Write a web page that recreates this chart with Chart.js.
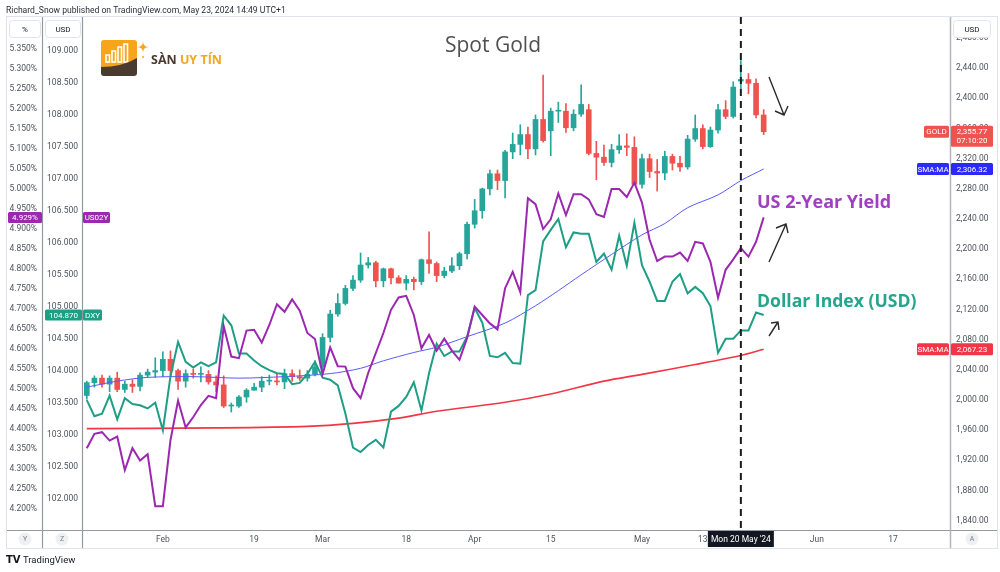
<!DOCTYPE html>
<html><head><meta charset="utf-8">
<script src="https://cdn.jsdelivr.net/npm/chart.js@4.4.1/dist/chart.umd.min.js"></script>
<style>html,body{margin:0;padding:0;background:#fff;}#wrap{width:1000px;height:572px;}</style>
</head><body><div id="wrap"><canvas id="c" width="1000" height="572"></canvas></div>
<script>
// ---- categories (trading days, 2024) ----
const dates = [
'01-18','01-19','01-22','01-23','01-24','01-25','01-26','01-29','01-30','01-31',
'02-01','02-02','02-05','02-06','02-07','02-08','02-09','02-12','02-13','02-14','02-15','02-16','02-19','02-20','02-21','02-22','02-23','02-26','02-27','02-28','02-29',
'03-01','03-04','03-05','03-06','03-07','03-08','03-11','03-12','03-13','03-14','03-15','03-18','03-19','03-20','03-21','03-22','03-25','03-26','03-27','03-28',
'04-01','04-02','04-03','04-04','04-05','04-08','04-09','04-10','04-11','04-12','04-15','04-16','04-17','04-18','04-19','04-22','04-23','04-24','04-25','04-26','04-29','04-30',
'05-01','05-02','05-03','05-06','05-07','05-08','05-09','05-10','05-13','05-14','05-15','05-16','05-17','05-20','05-21','05-22','05-23','05-24','05-27','05-28','05-29','05-30','05-31',
'06-03','06-04','06-05','06-06','06-07','06-10','06-11','06-12','06-13','06-14','06-17','06-18','06-19','06-20','06-21','06-24','06-25','06-26'];
const tickDates = ['02-01','02-19','03-01','03-18','04-01','04-15','05-01','05-13','06-03','06-17'];
const tickText  = ['Feb','19','Mar','18','Apr','15','May','13','Jun','17'];
const markerDate = '05-20';
const markerText = "Mon 20 May '24";

// ---- Spot gold daily candles ----
const goldOpen = [2006,2023,2029,2021,2029,2014,2021,2018,2033,2037,
2039,2054,2039,2025,2035,2034,2034,2024,2020,1992,1992,2004,2013,2017,2025,2025,2024,2035,2031,2029,2034,
2044,2083,2114,2128,2148,2159,2179,2182,2158,2174,2162,2155,2160,2157,2186,2181,2165,2171,2178,2194,
2233,2251,2280,2300,2291,2329,2339,2352,2333,2372,2357,2383,2383,2361,2379,2385,2327,2322,2315,2332,2337,2335,
2286,2320,2303,2301,2323,2314,2309,2346,2360,2336,2358,2385,2376,2423,2425,2420,2378];
const goldHigh = [2025,2032,2033,2032,2037,2025,2027,2036,2041,2056,
2064,2065,2041,2040,2041,2044,2039,2032,2032,1996,2006,2015,2022,2031,2033,2034,2041,2040,2040,2039,2052,
2088,2119,2141,2152,2165,2195,2189,2184,2175,2175,2165,2165,2163,2187,2223,2183,2176,2189,2196,2236,
2266,2281,2305,2305,2331,2354,2365,2362,2378,2431,2387,2395,2393,2385,2418,2392,2343,2338,2339,2352,2353,2349,
2326,2326,2319,2330,2326,2323,2351,2378,2365,2362,2392,2397,2422,2450,2433,2426,2385];
const goldLow = [2001,2017,2017,2011,2011,2010,2010,2012,2030,2030,
2031,2031,2014,2017,2029,2024,2021,2011,1990,1984,1990,1997,2013,2011,2020,2020,2015,2025,2026,2025,2032,
2039,2077,2111,2126,2145,2156,2175,2150,2150,2154,2155,2146,2146,2153,2168,2157,2162,2169,2173,2187,
2228,2241,2272,2279,2268,2320,2325,2320,2325,2342,2324,2368,2355,2357,2376,2325,2292,2311,2309,2327,2324,2285,
2281,2295,2277,2292,2305,2303,2306,2343,2333,2335,2354,2373,2374,2412,2406,2374,2352];
const goldClose = [2023,2029,2021,2029,2014,2021,2018,2033,2037,2039,
2054,2039,2025,2035,2034,2034,2024,2020,1992,1992,2004,2013,2017,2025,2025,2024,2035,2031,2029,2034,2044,
2083,2114,2128,2148,2159,2179,2182,2158,2174,2162,2155,2160,2157,2186,2181,2165,2171,2178,2194,2233,
2251,2280,2300,2291,2329,2339,2352,2333,2372,2344,2383,2383,2361,2379,2392,2327,2322,2315,2332,2337,2335,2286,
2320,2303,2301,2323,2314,2309,2346,2360,2336,2358,2385,2376,2415,2425,2420,2378,2355.77];

// ---- US 2-year yield (%) ----
const us02y = [4.352,4.388,4.392,4.371,4.381,4.297,4.352,4.321,4.337,4.207,
4.207,4.372,4.471,4.404,4.430,4.460,4.483,4.477,4.657,4.581,4.577,4.646,4.648,4.616,4.660,4.712,4.693,4.724,4.696,4.640,4.625,
4.537,4.604,4.557,4.556,4.502,4.477,4.540,4.590,4.640,4.698,4.729,4.733,4.685,4.602,4.635,4.596,4.626,4.596,4.573,4.627,
4.706,4.685,4.664,4.649,4.752,4.793,4.742,4.977,4.962,4.900,4.924,4.989,4.935,4.987,4.987,4.974,4.937,4.930,5.000,5.000,4.980,5.016,
4.966,4.873,4.820,4.831,4.831,4.841,4.820,4.868,4.864,4.818,4.728,4.798,4.824,4.852,4.831,4.868,4.929];

// ---- Dollar index ----
const dxy = [103.54,103.29,103.33,103.61,103.24,103.57,103.48,103.46,103.41,103.50,
103.07,103.91,104.45,104.14,104.05,104.13,104.07,104.13,104.86,104.71,104.27,104.27,104.16,104.07,104.01,103.96,103.95,103.79,103.81,103.95,104.14,
103.89,103.86,103.77,103.33,102.80,102.73,102.84,102.92,102.80,103.36,103.45,103.59,103.82,103.38,103.96,104.42,104.23,104.30,104.30,104.53,
104.98,104.75,104.23,104.21,104.28,104.12,104.11,105.18,105.26,106.02,106.20,106.37,105.93,106.16,106.14,106.14,105.70,105.83,105.58,106.11,105.64,106.31,
105.65,105.39,105.09,105.09,105.39,105.51,105.21,105.31,105.21,105.01,104.28,104.50,104.50,104.63,104.63,104.91,104.870];

// ---- Moving averages on gold ----
const smaFastDates = ['01-18','01-24','01-30','02-07','02-15','02-23','03-04','03-08','03-13','03-19','03-22','03-28','04-05','04-11','04-16','04-19','04-25','05-01','05-06','05-09','05-15','05-20','05-23'];
const smaFastVals  = [2017,2025,2030,2031,2029,2031,2035,2042,2052,2063,2070,2084,2102,2125,2145,2166,2193,2219,2234,2255,2272,2291,2306.32];
const smaSlowDates = ['01-18','02-12','02-28','03-07','03-15','03-22','04-05','04-15','04-24','05-01','05-10','05-20','05-23'];
const smaSlowVals  = [1962,1963,1965,1969,1976,1985,1997,2008,2025,2034,2047,2059,2067.23];

// ---- axis ticks ----
const goldTicks = [1840,1880,1920,1960,2000,2040,2080,2120,2160,2200,2240,2280,2320,2360,2400,2440,2480];
const pctTicks = [4.20,4.25,4.30,4.35,4.40,4.45,4.50,4.55,4.60,4.65,4.70,4.75,4.80,4.85,4.90,4.95,5.00,5.05,5.10,5.15,5.20,5.25,5.30,5.35];
const dxyTicks = [102.0,102.5,103.0,103.5,104.0,104.5,105.0,105.5,106.0,106.5,107.0,107.5,108.0,108.5,109.0];

const UP='#26a69a', DOWN='#ef5350', PURPLE='#9c27b0', TEAL='#1f9e86', BLUE='#5a5aff', SRED='#f23645';
const TICKC='#50535e';
const TF = {family:'Roboto', size:8.5};

const candleColors = goldOpen.map((o,i)=> goldClose[i] >= o ? UP : DOWN);

function rr(c,x,y,w,h,r){c.beginPath();c.moveTo(x+r,y);c.lineTo(x+w-r,y);c.quadraticCurveTo(x+w,y,x+w,y+r);c.lineTo(x+w,y+h-r);c.quadraticCurveTo(x+w,y+h,x+w-r,y+h);c.lineTo(x+r,y+h);c.quadraticCurveTo(x,y+h,x,y+h-r);c.lineTo(x,y+r);c.quadraticCurveTo(x,y,x+r,y);c.closePath();}
function tagBox(c,x,y,w,h,bg,txt,col,font){c.fillStyle=bg;rr(c,x,y,w,h,1.5);c.fill();c.fillStyle=col||'#fff';c.font=font||'8px Roboto';c.textAlign='center';c.textBaseline='middle';c.fillText(txt,x+w/2,y+h/2+0.5);}
function arrow(c,x0,y0,x1,y1,h1,h2){c.beginPath();c.moveTo(x0,y0);c.lineTo(x1,y1);c.moveTo(h1[0],h1[1]);c.lineTo(x1,y1);c.lineTo(h2[0],h2[1]);c.stroke();}

const overlay = {
  id:'overlay',
  beforeDraw(ch){const c=ch.ctx;c.save();c.fillStyle='#fff';c.fillRect(0,0,ch.width,ch.height);c.restore();},
  afterDatasetsDraw(ch){
    const c=ch.ctx, a=ch.chartArea, x=ch.scales.x.getPixelForValue(dates.indexOf(markerDate));
    c.save();c.strokeStyle='#1c1c1c';c.lineWidth=2;c.setLineDash([7,5]);
    c.beginPath();c.moveTo(x,a.top);c.lineTo(x,a.bottom);c.stroke();c.restore();
  },
  afterDraw(ch){
    const c=ch.ctx, a=ch.chartArea, sx=ch.scales.x, yG=ch.scales.yG, yP=ch.scales.yP, yD=ch.scales.yD;
    c.save();
    // frame & separators
    c.strokeStyle='#e0e3eb';c.lineWidth=1;c.strokeRect(6.5,16.5,991,532);
    c.strokeStyle='#9598a1';c.lineWidth=1.2;
    c.beginPath();c.moveTo(42.5,17);c.lineTo(42.5,548);c.moveTo(82.5,17);c.lineTo(82.5,548);
    c.moveTo(7,a.bottom+0.5);c.lineTo(997,a.bottom+0.5);c.stroke();
    c.strokeStyle='#b2b5be';c.lineWidth=1.5;c.beginPath();c.moveTo(950.5,17);c.lineTo(950.5,548);c.stroke();
    // header unit boxes
    c.lineWidth=1;c.strokeStyle='#e0e3eb';
    [[9,'%',31],[45,'USD',35],[953,'USD',37]].forEach(([x,t,w])=>{c.fillStyle='#fff';rr(c,x+0.5,20.5,w,17,3);c.fill();c.stroke();
      c.fillStyle='#131722';c.font='8px Roboto';c.textAlign='center';c.textBaseline='middle';c.fillText(t,x+w/2+0.5,29.5);});
    // top credit line
    c.fillStyle='#2a2e39';c.font='8.6px Roboto';c.textAlign='left';c.textBaseline='alphabetic';
    c.fillText('Richard_Snow published on TradingView.com, May 23, 2024 14:49 UTC+1',6,12.5);
    // title
    c.fillStyle='#505050';c.font='21px "Open Sans"';c.textAlign='center';c.fillText('Spot Gold',493,51.5);
    // logo
    c.fillStyle='#f6a51c';rr(c,101,40,36,30,3);c.fill();
    c.strokeStyle='#fff';c.lineWidth=1.6;
    [[106,55],[112,51],[118,47],[124,44]].forEach(([x,t])=>{c.strokeRect(x,t,3.5,62-t);});
    c.fillStyle='#4a3a2f';c.beginPath();c.moveTo(101,67);c.quadraticCurveTo(122,67,137,58);c.lineTo(137,73);c.quadraticCurveTo(137,76,134,76);c.lineTo(104,76);c.quadraticCurveTo(101,76,101,73);c.closePath();c.fill();
    c.fillStyle='#f6a51c';c.beginPath();const sx0=143,sy0=47;c.moveTo(sx0,sy0-6);c.quadraticCurveTo(sx0,sy0,sx0+6,sy0);c.quadraticCurveTo(sx0,sy0,sx0,sy0+6);c.quadraticCurveTo(sx0,sy0,sx0-6,sy0);c.quadraticCurveTo(sx0,sy0,sx0,sy0-6);c.fill();
    c.beginPath();c.arc(143,57,1,0,Math.PI*2);c.fill();
    c.font='bold 12.5px "Open Sans"';c.textAlign='left';c.fillStyle='#4a3a2f';c.fillText('SÀN',151,64);
    const w1=c.measureText('SÀN ').width;c.fillStyle='#f6a51c';c.fillText('UY TÍN',151+w1,64);
    // annotations
    c.font='bold 18px "Open Sans"';c.fillStyle='#a040c0';c.fillText('US 2-Year Yield',757,208);
    c.font='bold 17.6px "Open Sans"';c.fillStyle='#26a58d';c.fillText('Dollar Index (USD)',757,307);
    c.strokeStyle='#2b2b2b';c.lineWidth=1.4;
    arrow(c,769,77,784,115,[775,111],[788,106]);
    arrow(c,769,262,786,224,[776,228],[788,233]);
    arrow(c,769,336,778,322,[771,323],[779,330]);
    // value labels right
    const last=goldClose.length-1;
    let yv=yG.getPixelForValue(goldClose[last]);
    c.fillStyle=DOWN;rr(c,951,yv-6,42,21,1.5);c.fill();
    c.fillStyle='#fff';c.font='8px Roboto';c.textAlign='center';c.textBaseline='middle';
    c.fillText(goldClose[last].toLocaleString('en-US',{minimumFractionDigits:2}),972,yv+0.5);c.fillText('07:10:20',972,yv+9.5);
    tagBox(c,924,yv-6,25,12,DOWN,'GOLD');
    yv=yG.getPixelForValue(smaFastVals[smaFastVals.length-1]);
    tagBox(c,951,yv-6,42,12,'#2a2aff',smaFastVals[smaFastVals.length-1].toLocaleString('en-US',{minimumFractionDigits:2}));
    tagBox(c,917,yv-6,32,12,'#2a2aff','SMA:MA');
    yv=yG.getPixelForValue(smaSlowVals[smaSlowVals.length-1]);
    tagBox(c,951,yv-6,42,12,SRED,smaSlowVals[smaSlowVals.length-1].toLocaleString('en-US',{minimumFractionDigits:2}));
    tagBox(c,917,yv-6,32,12,SRED,'SMA:MA');
    // value labels left
    yv=yP.getPixelForValue(us02y[last]);
    tagBox(c,8,yv-5.5,34,11,PURPLE,us02y[last].toFixed(3)+'%');
    tagBox(c,83,yv-5.5,27,11,PURPLE,'US02Y');
    yv=yD.getPixelForValue(dxy[last]);
    tagBox(c,45,yv-5.5,37,11,TEAL,dxy[last].toFixed(3));
    tagBox(c,83,yv-5.5,19,11,TEAL,'DXY');
    // bottom date marker
    const mx=sx.getPixelForValue(dates.indexOf(markerDate));
    c.fillStyle='#131722';c.fillRect(mx-33,531,66,16);
    c.fillStyle='#fff';c.font='8.5px Roboto';c.fillText(markerText,mx,539.5);
    // bottom circles
    [[25,'Y'],[62,'Z'],[972,'A']].forEach(([x,t])=>{c.fillStyle='#eef0f4';c.beginPath();c.arc(x,539,6.5,0,Math.PI*2);c.fill();
      c.fillStyle='#787b86';c.font='7px Roboto';c.fillText(t,x,539.5);});
    // footer
    c.fillStyle='#131722';c.font='bold 10px "DejaVu Sans"';c.textAlign='left';c.fillText('TV',6,560.5);
    c.font='9.5px Roboto';c.fillText('TradingView',23,560.5);
    c.restore();
  }
};

const tickMap = {};
tickDates.forEach((d,i)=>{tickMap[dates.indexOf(d)] = tickText[i];});

new Chart(document.getElementById('c'), {
  data:{
    labels: dates,
    datasets:[
      {type:'line',label:'US02Y',data:us02y,yAxisID:'yP',borderColor:PURPLE,borderWidth:2,pointRadius:0,tension:0,order:1},
      {type:'line',label:'DXY',data:dxy,yAxisID:'yD',borderColor:TEAL,borderWidth:2,pointRadius:0,tension:0,order:2},
      {type:'line',label:'SMA fast',data:smaFastDates.map((d,i)=>({x:d,y:smaFastVals[i]})),yAxisID:'yG',borderColor:BLUE,borderWidth:1,pointRadius:0,tension:0.3,order:3},
      {type:'line',label:'SMA slow',data:smaSlowDates.map((d,i)=>({x:d,y:smaSlowVals[i]})),yAxisID:'yG',borderColor:SRED,borderWidth:1.6,pointRadius:0,tension:0.3,order:4},
      {type:'bar',label:'bodies',data:goldOpen.map((o,i)=>[o,goldClose[i]]),yAxisID:'yG',backgroundColor:candleColors,barThickness:5,grouped:false,minBarLength:1,order:5},
      {type:'bar',label:'wicks',data:goldLow.map((l,i)=>[l,goldHigh[i]]),yAxisID:'yG',backgroundColor:candleColors,barThickness:1,grouped:false,order:6}
    ]
  },
  options:{
    responsive:false, devicePixelRatio:1, animation:false,
    layout:{padding:{top:17,left:7,right:3,bottom:24}},
    plugins:{legend:{display:false},tooltip:{enabled:false}},
    scales:{
      x:{type:'category',offset:true,grid:{display:false,drawTicks:false},border:{display:false},
        afterBuildTicks:s=>{s.ticks = tickDates.map(d=>({value:dates.indexOf(d)}));},
        ticks:{autoSkip:false,maxRotation:0,padding:5,font:TF,color:TICKC,callback:v=>tickMap[v]||''},
        afterFit:s=>{s.height=18;}},
      yP:{position:'left',weight:2,min:4.1475,max:5.43,grid:{display:false,drawTicks:false},border:{display:false},
        afterBuildTicks:s=>{s.ticks=pctTicks.map(v=>({value:v}));},
        ticks:{padding:5,font:TF,color:TICKC,callback:v=>v.toFixed(3)+'%'},
        afterFit:s=>{s.width=35;}},
      yD:{position:'left',weight:1,min:101.511,max:109.527,grid:{display:false,drawTicks:false},border:{display:false},
        afterBuildTicks:s=>{s.ticks=dxyTicks.map(v=>({value:v}));},
        ticks:{padding:5,font:TF,color:TICKC,callback:v=>v.toFixed(3)},
        afterFit:s=>{s.width=41;}},
      yG:{position:'right',min:1827.6,max:2507.9,grid:{display:false,drawTicks:false},border:{display:false},
        afterBuildTicks:s=>{s.ticks=goldTicks.map(v=>({value:v}));},
        ticks:{padding:6,font:TF,color:TICKC,callback:v=>v.toLocaleString('en-US',{minimumFractionDigits:2,maximumFractionDigits:2})},
        afterFit:s=>{s.width=47;}}
    }
  },
  plugins:[overlay]
});
</script></body></html>
